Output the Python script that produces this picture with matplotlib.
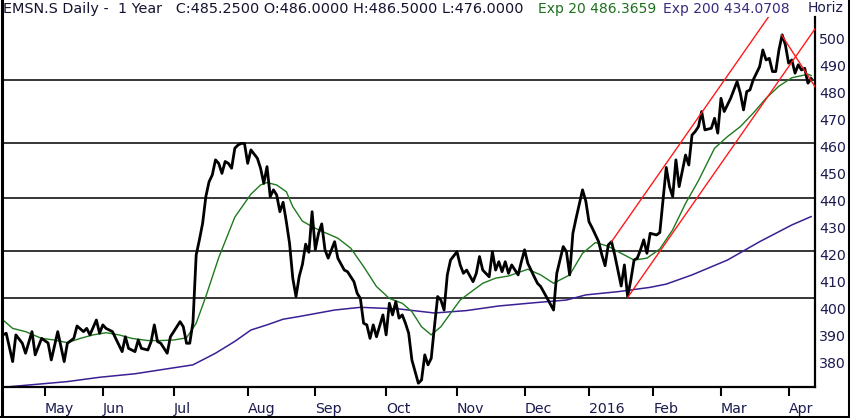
import matplotlib
matplotlib.use("Agg")
import matplotlib.pyplot as plt
from matplotlib.lines import Line2D

# ---- data (trading-day index, price) ----
close_idx = [0, 1, 3, 4, 6, 7, 9, 10, 12, 14, 15, 17, 19, 20, 22, 23, 25, 26, 27, 29,
             30, 31, 32, 34, 35, 37, 38, 39, 41, 42, 43, 45, 46, 47, 48, 49, 51, 52, 54, 55,
             56, 57, 58, 59, 60, 61, 62, 63, 64, 65, 66, 67, 68, 69, 70, 71, 72, 73, 74, 75,
             76, 77, 79, 80, 81, 82, 83, 84, 85, 86, 87, 88, 89, 90, 91, 92, 93, 94, 95, 96,
             97, 98, 99, 100, 101, 103, 104, 106, 107, 109, 110, 111, 112, 113, 114, 115, 116, 118, 119, 120,
             121, 122, 123, 124, 125, 126, 127, 129, 130, 131, 132, 133, 134, 135, 136, 137, 138, 139, 141, 142,
             143, 144, 146, 147, 148, 149, 151, 152, 153, 154, 155, 156, 157, 158, 160, 161, 162, 163, 165, 166,
             167, 169, 171, 172, 174, 175, 176, 177, 178, 180, 181, 182, 183, 185, 186, 187, 188, 189, 190, 192,
             193, 194, 195, 196, 197, 198, 199, 200, 201, 203, 204, 206, 207, 208, 209, 210, 212, 213, 214, 215,
             216, 217, 218, 220, 221, 222, 223, 224, 226, 228, 229, 230, 231, 232, 233, 235, 236, 237, 238, 239,
             240, 241, 242, 243, 244, 245, 246, 247, 248, 249, 250, 251]
close_val = [390.4, 391.0, 380.5, 390.4, 387.3, 383.6, 391.6, 383.0, 389.1, 387.4, 381.1, 391.6, 380.5, 387.3, 389.1, 393.7, 391.6, 392.8, 390.4, 395.9,
             391.0, 394.1, 392.8, 391.6, 389.1, 384.2, 389.7, 385.4, 384.2, 388.5, 385.4, 384.8, 387.9, 394.1, 387.9, 387.3, 383.6, 389.7, 393.4, 395.3,
             393.4, 387.3, 387.3, 395.0, 420.0, 425.6, 431.7, 441.6, 447.1, 449.6, 455.2, 453.9, 450.2, 454.6, 453.9, 452.1, 459.5, 460.7, 461.3, 461.3,
             453.9, 458.9, 455.8, 452.1, 446.5, 452.7, 441.6, 444.1, 442.2, 436.0, 439.5, 432.3, 424.3, 411.4, 404.6, 412.0, 416.5, 424.0, 421.0, 436.0,
             422.0, 428.0, 431.5, 421.9, 418.8, 424.9, 418.8, 414.4, 413.8, 410.1, 405.8, 403.9, 394.7, 394.1, 389.1, 394.1, 389.7, 397.8, 390.4, 402.1,
             397.8, 402.7, 396.6, 397.8, 394.7, 391.0, 381.1, 372.5, 373.7, 383.0, 379.3, 381.7, 393.4, 404.6, 403.3, 399.6, 412.6, 418.1, 421.2, 416.3,
             413.2, 414.4, 410.1, 413.2, 419.4, 414.4, 411.9, 421.2, 414.4, 417.5, 413.8, 417.5, 413.2, 416.3, 412.6, 417.5, 421.9, 416.9, 411.9, 409.5,
             408.3, 404.0, 399.6, 413.2, 423.1, 421.2, 412.6, 428.0, 433.6, 444.1, 440.0, 432.3, 430.0, 424.9, 420.0, 416.0, 423.7, 424.9, 420.0, 408.5,
             416.3, 404.6, 410.7, 418.1, 418.8, 421.9, 425.6, 420.6, 428.0, 427.4, 428.3, 452.4, 445.3, 441.6, 455.2, 445.3, 457.0, 453.3, 464.4, 465.7,
             467.5, 473.1, 466.3, 466.9, 470.6, 465.1, 478.0, 473.1, 478.0, 484.2, 479.9, 473.7, 480.5, 481.1, 484.8, 489.7, 495.9, 492.2, 492.8, 487.9,
             487.9, 495.9, 501.5, 497.8, 491.0, 492.2, 487.3, 490.4, 488.5, 489.1, 483.6, 485.3]

ema20_idx = [0, 3, 7, 12, 16, 20, 24, 28, 32, 36, 40, 45, 49, 53, 57, 60, 63, 67, 72, 77,
             80, 82, 85, 88, 90, 93, 96, 98, 104, 108, 112, 116, 120, 124, 127, 130, 133, 136, 139, 142,
             145, 149, 153, 157, 163, 167, 171, 176, 180, 184, 188, 192, 196, 200, 204, 208, 212, 216, 221, 225,
             229, 233, 237, 241, 245, 250, 251]
ema20_val = [395.9, 392.8, 391.6, 389.1, 388.5, 387.5, 389.1, 390.4, 391.2, 390.4, 389.1, 388.3, 388.3, 388.5, 389.3, 394.7, 404.6, 419.0, 434.0, 442.5,
             445.9, 446.8, 445.9, 443.4, 437.9, 432.5, 430.5, 429.3, 426.2, 422.5, 415.7, 408.3, 403.9, 402.1, 399.0, 393.4, 390.4, 393.4, 398.4, 403.3,
             406.0, 409.5, 411.4, 412.2, 414.7, 412.6, 409.5, 412.6, 420.6, 424.6, 423.2, 420.6, 418.1, 418.8, 422.2, 429.3, 439.1, 447.5, 459.5, 463.8,
             467.5, 472.5, 478.0, 482.5, 485.6, 486.9, 486.4]

ema200_idx = [0, 20, 30, 41, 59, 66, 72, 77, 82, 87, 92, 103, 111, 123, 134, 144, 154, 165, 175, 181,
              191, 201, 206, 214, 225, 235, 245, 251]
ema200_val = [371.0, 373.1, 374.7, 376.0, 379.3, 383.6, 388.0, 392.2, 394.1, 396.2, 397.2, 399.6, 400.6, 400.0, 398.5, 399.4, 401.1, 402.3, 403.3, 405.2,
              406.4, 408.0, 409.2, 412.6, 418.1, 424.9, 431.1, 434.2]

h_levels = [404.1, 421.5, 441.1, 461.5, 484.8]

channel_lower_x = [194.1, 252.2]
channel_lower_y = [404.4, 503.7]
channel_upper_x = [189.0, 245.0]
channel_upper_y = [424.9, 520.5]
down_line_x = [241.8, 252.2]
down_line_y = [501.5, 482.3]

month_ticks = [13, 31, 53, 76, 97, 119, 141, 162, 182, 202, 223, 244]
month_labels = ["May", "Jun", "Jul", "Aug", "Sep", "Oct", "Nov", "Dec", "2016", "Feb", "Mar", "Apr"]
price_ticks = list(range(380, 501, 10))

header_main = "EMSN.S Daily -  1 Year   C:485.2500 O:486.0000 H:486.5000 L:476.0000"
header_ema20 = "Exp 20 486.3659"
header_ema200 = "Exp 200 434.0708"
header_horiz = "Horiz"

# ---- figure ----
W, H = 850, 418
fig = plt.figure(figsize=(W / 100, H / 100), dpi=100)
fig.patch.set_facecolor("white")
ax = fig.add_axes([3 / W, 31 / H, 812 / W, 370 / H])
ax.set_xlim(0, 252.2)
ax.set_ylim(371.1, 508.1)

navy = "#1b1b4f"
for lv in h_levels:
    ax.axhline(lv, color="black", lw=1.1, zorder=1)

ax.plot(ema200_idx, ema200_val, color="#3b1f94", lw=1.1, zorder=2)
ax.plot(ema20_idx, ema20_val, color="#1e7a1e", lw=1.0, zorder=3)
ax.plot(close_idx, close_val, color="black", lw=2.0, zorder=4, solid_joinstyle="round")
ax.plot(channel_lower_x, channel_lower_y, color="#ff1a1a", lw=1.0, zorder=5)
ax.plot(channel_upper_x, channel_upper_y, color="#ff1a1a", lw=1.0, zorder=5)
ax.plot(down_line_x, down_line_y, color="#ff1a1a", lw=1.0, zorder=5)

for s in ["top", "left"]:
    ax.spines[s].set_visible(False)
for s in ["right", "bottom"]:
    ax.spines[s].set_linewidth(1.6)
    ax.spines[s].set_color("black")

ax.yaxis.tick_right()
ax.set_yticks(price_ticks)
ax.set_yticklabels([str(v) for v in price_ticks])
ax.tick_params(axis="y", length=0, pad=3, labelsize=10.2, labelcolor=navy)

ax.set_xticks(month_ticks)
ax.set_xticklabels(month_labels, ha="left")
ax.tick_params(axis="x", direction="out", length=6.5, width=1.5, color="black",
               pad=4, labelsize=10.2, labelcolor=navy)

# header
ty = 1 - 8.5 / H
fig.text(3 / W, ty, header_main, color="#141430", fontsize=10.4, va="center", ha="left")
fig.text(538 / W, ty, header_ema20, color="#1e6e1e", fontsize=10.0, va="center", ha="left")
fig.text(663 / W, ty, header_ema200, color="#3a2a80", fontsize=10.0, va="center", ha="left")
fig.text(808 / W, ty, header_horiz, color=navy, fontsize=10.0, va="center", ha="left")

# image frame
fig.add_artist(Line2D([1.5 / W, 1.5 / W], [0, 1], transform=fig.transFigure, color="black", lw=2.2))
fig.add_artist(Line2D([848.5 / W, 848.5 / W], [0, 1], transform=fig.transFigure, color="black", lw=2.2))
fig.add_artist(Line2D([0, 1], [1.5 / H, 1.5 / H], transform=fig.transFigure, color="black", lw=2.2))

fig.savefig("out.png", dpi=100, facecolor="white")
